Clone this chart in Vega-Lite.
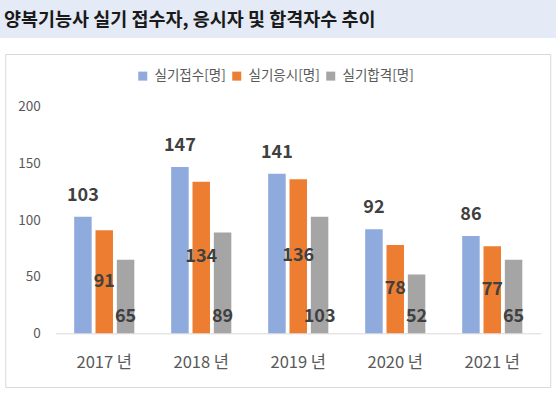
{
  "$schema": "https://vega.github.io/schema/vega-lite/v6.json",
  "padding": 0,
  "background": "white",
  "spacing": 15,
  "center": true,
  "config": {"font": "Noto Sans CJK KR", "view": {"stroke": null}},
  "vconcat": [
    {
      "width": 556,
      "height": 38,
      "view": {"fill": "#E4EBF6", "stroke": null},
      "data": {"values": [{"title": "양복기능사 실기 접수자, 응시자 및 합격자수 추이", "px": 0, "py": 0.5}]},
      "mark": {"type": "text", "align": "left", "baseline": "middle", "dx": 4, "dy": 1, "fontSize": 18.5, "fontWeight": "bold", "color": "#1a1a1a"},
      "encoding": {
        "x": {"field": "px", "type": "quantitative", "scale": {"domain": [0, 1]}, "axis": null},
        "y": {"field": "py", "type": "quantitative", "scale": {"domain": [0, 1]}, "axis": null},
        "text": {"field": "title"}
      }
    },
    {
      "width": 545,
      "height": 333,
      "view": {"stroke": "#D9D9D9", "strokeWidth": 1, "fill": "white"},
      "data": {"values": [
        {"year": "2017 년", "series": "실기접수[명]", "value": 103},
        {"year": "2017 년", "series": "실기응시[명]", "value": 91},
        {"year": "2017 년", "series": "실기합격[명]", "value": 65},
        {"year": "2018 년", "series": "실기접수[명]", "value": 147},
        {"year": "2018 년", "series": "실기응시[명]", "value": 134},
        {"year": "2018 년", "series": "실기합격[명]", "value": 89},
        {"year": "2019 년", "series": "실기접수[명]", "value": 141},
        {"year": "2019 년", "series": "실기응시[명]", "value": 136},
        {"year": "2019 년", "series": "실기합격[명]", "value": 103},
        {"year": "2020 년", "series": "실기접수[명]", "value": 92},
        {"year": "2020 년", "series": "실기응시[명]", "value": 78},
        {"year": "2020 년", "series": "실기합격[명]", "value": 52},
        {"year": "2021 년", "series": "실기접수[명]", "value": 86},
        {"year": "2021 년", "series": "실기응시[명]", "value": 77},
        {"year": "2021 년", "series": "실기합격[명]", "value": 65}
      ]},
      "encoding": {
        "x": {"field": "year", "type": "nominal", "sort": null,
          "scale": {"range": [50.5, 535.5], "paddingInner": 0.38, "paddingOuter": 0.19},
          "axis": {"title": null, "domain": true, "domainColor": "#D9D9D9", "ticks": false, "labelAngle": 0,
            "labelFontSize": 16.5, "labelColor": "#595959", "offset": -53.7, "labelPadding": 21}},
        "xOffset": {"field": "series", "type": "nominal", "sort": ["실기접수[명]", "실기응시[명]", "실기합격[명]"],
          "scale": {"domain": ["실기접수[명]", "실기응시[명]", "실기합격[명]"], "paddingInner": 0.18, "paddingOuter": 0}}
      },
      "layer": [
        {
          "mark": {"type": "bar"},
          "encoding": {
            "y": {"field": "value", "type": "quantitative",
              "scale": {"domain": [-47.5, 246.8], "nice": false, "zero": false},
              "axis": {"title": null, "values": [0, 50, 100, 150, 200], "grid": false, "domain": false, "ticks": false,
                "offset": -40, "labelPadding": 5, "labelFontSize": 13.5, "labelColor": "#595959"}},
            "y2": {"datum": 0},
            "color": {"field": "series", "type": "nominal",
              "scale": {"domain": ["실기접수[명]", "실기응시[명]", "실기합격[명]"], "range": ["#8FAADC", "#ED7D31", "#A5A5A5"]},
              "legend": {"orient": "none", "legendX": 136, "legendY": 69, "direction": "horizontal", "title": null,
                "symbolType": "square", "symbolSize": 81, "symbolStrokeWidth": 0, "labelFontSize": 13.5,
                "labelColor": "#595959", "columnPadding": 4, "labelOffset": 5}}
          }
        },
        {
          "transform": [{"filter": "datum.series === '실기접수[명]'"}],
          "mark": {"type": "text", "baseline": "bottom", "dy": -12, "fontSize": 18, "fontWeight": "bold", "color": "#404040"},
          "encoding": {
            "y": {"field": "value", "type": "quantitative", "scale": {"domain": [-47.5, 246.8], "nice": false, "zero": false}, "axis": null},
            "text": {"field": "value"}
          }
        },
        {
          "transform": [{"filter": "datum.series === '실기응시[명]'"}],
          "mark": {"type": "text", "baseline": "middle", "fontSize": 18, "fontWeight": "bold", "color": "#404040"},
          "encoding": {
            "y": {"field": "value", "type": "quantitative", "scale": {"domain": [-95, 493.6], "nice": false, "zero": false}, "axis": null},
            "text": {"field": "value"}
          }
        },
        {
          "transform": [{"filter": "datum.series === '실기합격[명]'"}],
          "mark": {"type": "text", "baseline": "middle", "dy": -16, "fontSize": 18, "fontWeight": "bold", "color": "#404040"},
          "encoding": {
            "y": {"datum": 0, "type": "quantitative", "scale": {"domain": [-47.5, 246.8], "nice": false, "zero": false}, "axis": null},
            "text": {"field": "value"}
          }
        }
      ],
      "resolve": {"scale": {"y": "independent"}}
    }
  ]
}
